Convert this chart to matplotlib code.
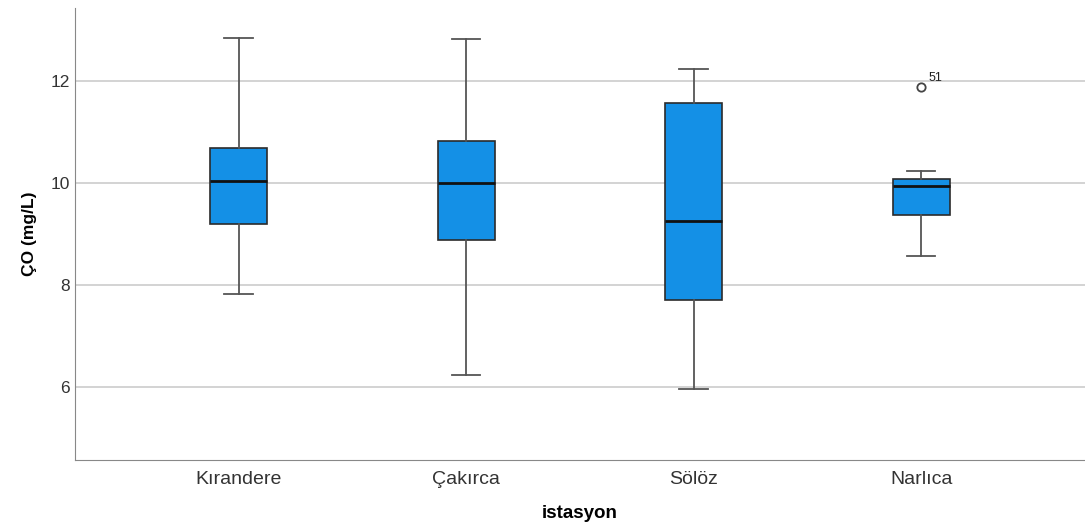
import matplotlib
matplotlib.use("Agg")
import matplotlib.pyplot as plt

plt.rcParams['font.family'] = ['Liberation Sans', 'DejaVu Sans']

stations = ["Kırandere", "Çakırca", "Sölöz", "Narlıca"]
whislo = [7.82, 6.24, 5.96, 8.57]
q1 = [9.20, 8.88, 7.71, 9.37]
med = [10.04, 10.00, 9.25, 9.94]
q3 = [10.69, 10.82, 11.57, 10.08]
whishi = [12.84, 12.82, 12.24, 10.24]
fliers = [[], [], [], [11.88]]
flier_ids = [[], [], [], ["51"]]

stats = []
for i, name in enumerate(stations):
    stats.append(dict(label=name, whislo=whislo[i], q1=q1[i], med=med[i],
                      q3=q3[i], whishi=whishi[i], fliers=fliers[i]))

fig = plt.figure(figsize=(10.85, 5.23), dpi=100)
ax = fig.add_axes([0.069, 0.120, 0.931, 0.865])

pos = list(range(1, len(stations) + 1))
ax.bxp(stats, positions=pos, widths=0.25, patch_artist=True,
       boxprops=dict(facecolor="#1490e6", edgecolor="#2b2b2b", linewidth=1.2),
       medianprops=dict(color="#111111", linewidth=2),
       whiskerprops=dict(color="#555555", linewidth=1.3),
       capprops=dict(color="#555555", linewidth=1.3),
       capwidths=0.125,
       flierprops=dict(marker="o", markerfacecolor="white", markeredgecolor="#444444",
                       markersize=6, markeredgewidth=1.3))

for i, ids in enumerate(flier_ids):
    for v, t in zip(fliers[i], ids):
        ax.annotate(t, (pos[i], v), xytext=(5, 4), textcoords="offset points",
                    fontsize=9, color="#222222")

ax.set_xlim(0.28, 4.72)
ax.set_ylim(4.57, 13.43)
ax.set_yticks([6, 8, 10, 12])
ax.yaxis.grid(True, color="#cccccc", linewidth=1.2)
ax.set_axisbelow(True)
for s in ["top", "right"]:
    ax.spines[s].set_visible(False)
for s in ["left", "bottom"]:
    ax.spines[s].set_color("#888888")
ax.tick_params(axis="both", length=0, colors="#333333")
ax.tick_params(axis="y", labelsize=12.5)
ax.tick_params(axis="x", labelsize=14, pad=8)
ax.set_xlabel("istasyon", fontsize=13.5, fontweight="bold", labelpad=12)
ax.set_ylabel("ÇO (mg/L)", fontsize=12.5, fontweight="bold", labelpad=10)

fig.savefig("out.png", dpi=100)
